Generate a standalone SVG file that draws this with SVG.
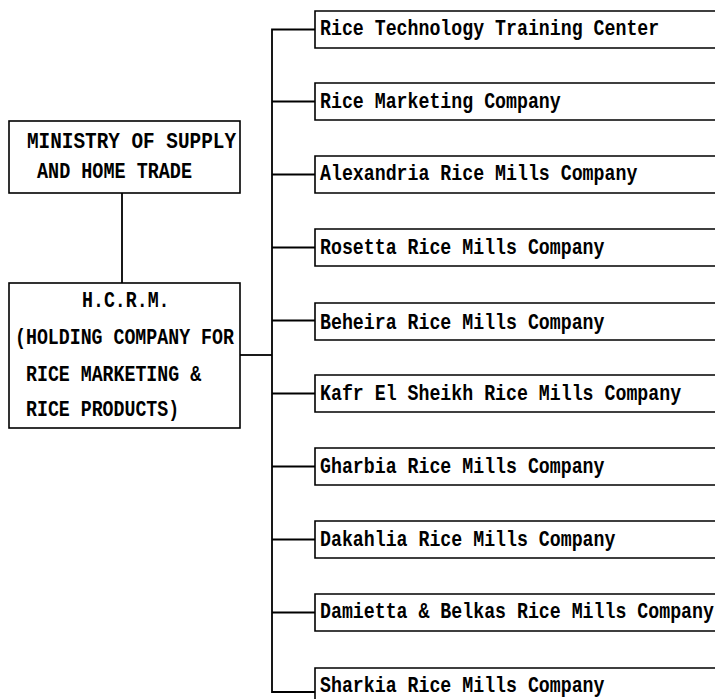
<svg xmlns="http://www.w3.org/2000/svg" width="715" height="699" viewBox="0 0 715 699">
<style>
.box{fill:#fff;stroke:#000;stroke-width:1.6}
.t{font-family:"Liberation Mono","DejaVu Sans Mono",monospace;font-weight:bold;font-size:18.25px;fill:#000}
.c{fill:none;stroke:#000;stroke-width:1.8}
</style>
<rect width="715" height="699" fill="#fff"/>
<g id="connectors">
<line class="c" x1="122" y1="193" x2="122" y2="283"/>
<line class="c" x1="240" y1="355" x2="272" y2="355"/>
<polyline class="c" points="315,29.5 272,29.5 272,692 315,692"/>
<line class="c" x1="272" y1="101.5" x2="315" y2="101.5"/>
<line class="c" x1="272" y1="174.5" x2="315" y2="174.5"/>
<line class="c" x1="272" y1="247.5" x2="315" y2="247.5"/>
<line class="c" x1="272" y1="320.5" x2="315" y2="320.5"/>
<line class="c" x1="272" y1="393.5" x2="315" y2="393.5"/>
<line class="c" x1="272" y1="466.5" x2="315" y2="466.5"/>
<line class="c" x1="272" y1="539.5" x2="315" y2="539.5"/>
<line class="c" x1="272" y1="612.5" x2="315" y2="612.5"/>
</g>
<g id="ministry">
<rect class="box" x="9" y="121" width="231" height="72"/>
<text class="t" transform="translate(27,148) scale(1,1.2)" textLength="209" lengthAdjust="spacingAndGlyphs">MINISTRY OF SUPPLY</text>
<text class="t" transform="translate(37,178) scale(1,1.2)" textLength="155" lengthAdjust="spacingAndGlyphs">AND HOME TRADE</text>
</g>
<g id="hcrm">
<rect class="box" x="9" y="283" width="231" height="145"/>
<text class="t" transform="translate(82,307) scale(1,1.2)">H.C.R.M.</text>
<text class="t" transform="translate(15,344) scale(1,1.2)">(HOLDING COMPANY FOR</text>
<text class="t" transform="translate(26,381) scale(1,1.2)">RICE MARKETING &amp;</text>
<text class="t" transform="translate(26,416) scale(1,1.2)">RICE PRODUCTS)</text>
</g>
<g id="n1"><path class="box" d="M715,11H315V48H715"/><text class="t" transform="translate(320,35) scale(1,1.2)">Rice Technology Training Center</text></g>
<g id="n2"><path class="box" d="M715,83H315V120H715"/><text class="t" transform="translate(320,108) scale(1,1.2)">Rice Marketing Company</text></g>
<g id="n3"><path class="box" d="M715,156H315V193H715"/><text class="t" transform="translate(320,180) scale(1,1.2)">Alexandria Rice Mills Company</text></g>
<g id="n4"><path class="box" d="M715,229H315V266H715"/><text class="t" transform="translate(320,254) scale(1,1.2)">Rosetta Rice Mills Company</text></g>
<g id="n5"><path class="box" d="M715,303H315V340H715"/><text class="t" transform="translate(320,329) scale(1,1.2)">Beheira Rice Mills Company</text></g>
<g id="n6"><path class="box" d="M715,375H315V412H715"/><text class="t" transform="translate(320,400) scale(1,1.2)">Kafr El Sheikh Rice Mills Company</text></g>
<g id="n7"><path class="box" d="M715,448H315V485H715"/><text class="t" transform="translate(320,473) scale(1,1.2)">Gharbia Rice Mills Company</text></g>
<g id="n8"><path class="box" d="M715,521H315V558H715"/><text class="t" transform="translate(320,546) scale(1,1.2)">Dakahlia Rice Mills Company</text></g>
<g id="n9"><path class="box" d="M715,594H315V631H715"/><text class="t" transform="translate(320,618) scale(1,1.2)">Damietta &amp; Belkas Rice Mills Company</text></g>
<g id="n10"><path class="box" d="M715,668H315V705H715"/><text class="t" transform="translate(320,692) scale(1,1.2)">Sharkia Rice Mills Company</text></g>
</svg>
